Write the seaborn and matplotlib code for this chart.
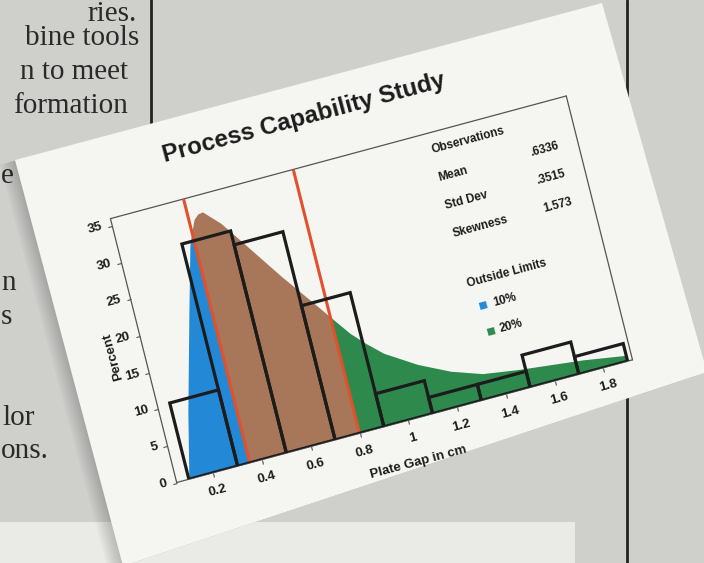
import numpy as np
import matplotlib
matplotlib.use("Agg")
import matplotlib.pyplot as plt
import seaborn as sns
from matplotlib.patches import Polygon, Rectangle
from matplotlib.transforms import Affine2D
import mpl_toolkits.axisartist.floating_axes as floating_axes
from mpl_toolkits.axisartist.grid_finder import FixedLocator, DictFormatter

# histogram of plate gap (cm), percent of parts per bin
bin_edges = [0.1, 0.3, 0.5, 0.7, 0.9, 1.1, 1.3, 1.5, 1.7, 1.9]
percent = [10.4, 30.3, 28.4, 18.3, 4.5, 2.2, 2.2, 4.4, 2.4]

# fitted distribution curve under the bars
curve_x = [0.10, 0.16, 0.26, 0.33, 0.37, 0.39, 0.41, 0.47, 0.55, 0.65, 0.75, 0.81,
           0.86, 0.91, 0.97, 1.09, 1.21, 1.33, 1.47, 1.60, 1.73, 1.90]
curve_y = [0.0, 8.5, 21.2, 29.9, 33.0, 33.6, 33.7, 31.6, 27.7, 22.8, 18.2, 15.4,
           13.1, 11.3, 9.4, 6.8, 4.8, 3.4, 2.7, 2.2, 1.7, 0.8]

# spec limits (red lines)
spec_limits = [0.35, 0.80]

x_ticks = [0.2, 0.4, 0.6, 0.8, 1.0, 1.2, 1.4, 1.6, 1.8]
x_tick_labels = ["0.2", "0.4", "0.6", "0.8", "1", "1.2", "1.4", "1.6", "1.8"]
y_ticks = [0, 5, 10, 15, 20, 25, 30, 35]
y_tick_labels = ["0", "5", "10", "15", "20", "25", "30", "35"]

stat_names = ["Observations", "Mean", "Std Dev", "Skewness"]
stat_values = ["", ".6336", ".3515", "1.573"]
legend_title = "Outside Limits"
legend_labels = ["10%", "20%"]

BLUE = "#2389d6"
BROWN = "#a8775a"
GREEN = "#2e8a4c"
RED = "#e2502c"
INK = "#1c1c1c"
CARD = "#f5f5f2"
PAGE = "#cfcfcc"

sns.set_style("white")
plt.rcParams["font.family"] = ["Liberation Sans", "DejaVu Sans"]

W, H = 704, 563
fig = plt.figure(figsize=(W / 100, H / 100), dpi=100, facecolor=PAGE)

# magazine page behind the card (pixel coords, y down)
bg = fig.add_axes([0, 0, 1, 1], zorder=-1)
bg.set_xlim(0, W)
bg.set_ylim(H, 0)
bg.axis("off")
bg.plot([151, 151], [0, H], color="#222222", lw=2, zorder=1)
bg.plot([627, 627], [0, H], color="#222222", lw=2, zorder=1)
bg.add_patch(Rectangle((0, 522), 575, 50, color="#eaeae7", lw=0, zorder=1.5))
page_text = [("ries.", 137, 14, "right"), ("bine tools", 139, 38, "right"),
             ("n to meet", 128, 72, "right"), ("formation", 128, 106, "right"),
             ("e", 1, 176, "left"), ("n", 1, 283, "left"), ("s", 1, 317, "left"),
             ("lor", 2, 418, "left"), ("ons.", 1, 451, "left")]
for txt, px, py, ha in page_text:
    bg.text(px, py, txt, ha=ha, va="center", fontsize=21, zorder=1.6,
            family="Liberation Serif", color="#2a2a2a")

card = np.array([(15, 160), (602, 3), (707, 372), (123, 566)])
for k in range(1, 11):
    bg.add_patch(Polygon(card + [-1.5 * k, 0.5 * k], color="black", alpha=0.018,
                         lw=0, zorder=3))
bg.add_patch(Polygon(card, color=CARD, lw=0, zorder=4))

# tilted chart: data -> figure pixels (y up)
M = np.array([[243.75, -1.84, 164.5], [65.6, 7.33, 77.2], [0, 0, 1]])
tr = Affine2D(M)
x0, x1, y0, y1 = 0.05, 1.92, 0, 36
helper = floating_axes.GridHelperCurveLinear(
    tr, extremes=(x0, x1, y0, y1),
    grid_locator1=FixedLocator(x_ticks),
    tick_formatter1=DictFormatter(dict(zip(x_ticks, x_tick_labels))),
    grid_locator2=FixedLocator(y_ticks),
    tick_formatter2=DictFormatter(dict(zip(y_ticks, y_tick_labels))))
corners = tr.transform([(x0, y0), (x1, y0), (x1, y1), (x0, y1)])
lo, hi = corners.min(axis=0), corners.max(axis=0)
mid, half = (lo + hi) / 2, (hi - lo) / 2 * 1.02
ax = fig.add_axes([(mid[0] - half[0]) / W, (mid[1] - half[1]) / H,
                   2 * half[0] / W, 2 * half[1] / H],
                  axes_class=floating_axes.FloatingAxes, grid_helper=helper)
ax.patch.set_facecolor(CARD)
aux = ax.get_aux_axes(tr)
aux.patch = ax.patch
ax.patch.zorder = 0.9

for side in ["bottom", "left", "top", "right"]:
    a = ax.axis[side]
    a.line.set_color("#555555")
    a.line.set_linewidth(0.9)
    a.major_ticklabels.set_visible(False)
    a.label.set_visible(False)
for side in ["top", "right"]:
    ax.axis[side].major_ticks.set_visible(False)
for side in ["bottom", "left"]:
    a = ax.axis[side]
    a.major_ticks.set_tick_out(True)
    a.major_ticks.set_ticksize(3)
    a.major_ticks.set_color("#555555")

# fitted curve, coloured by region
fill_bounds = [x0, spec_limits[0], spec_limits[1], x1]
for a_, b_, col in zip(fill_bounds[:-1], fill_bounds[1:], [BLUE, BROWN, GREEN]):
    poly = aux.fill_between(curve_x, curve_y, color=col, lw=0, zorder=1)
    clip = Polygon([(a_, -1), (b_, -1), (b_, 49), (a_, 49)], transform=aux.transData)
    poly.set_clip_path(clip)

for v in spec_limits:
    aux.plot([v, v], [y0, y1], color=RED, lw=2.2, zorder=3, solid_capstyle="butt")

mids = [(a_ + b_) / 2 for a_, b_ in zip(bin_edges[:-1], bin_edges[1:])]
sns.histplot(x=mids, weights=percent, bins=bin_edges, fill=False, color=INK,
             linewidth=2.3, ax=aux, zorder=5)

# all card texts follow the tilt of the card
ang = np.degrees(np.arctan2(M[1, 0], M[0, 0]))
txt_kw = dict(rotation=ang, rotation_mode="anchor", color=INK, fontweight="bold")

for v, lab in zip(x_ticks, x_tick_labels):
    aux.text(v, -2.5, lab, ha="center", va="center", fontsize=9.5, **txt_kw)
for v, lab in zip(y_ticks, y_tick_labels):
    aux.text(0.012, v + 0.3, lab, ha="right", va="center", fontsize=9.5, **txt_kw)
aux.text(1.0, -5.7, "Plate Gap in cm", ha="center", va="center", fontsize=9.5, **txt_kw)
aux.text(-0.075, 18.3, "Percent", ha="center", va="center", fontsize=9.5,
         rotation=ang + 90, rotation_mode="anchor", color=INK, fontweight="bold")

aux.text(0.89, 42.2, "Process Capability Study", ha="center", va="center",
         fontsize=17.5, **txt_kw)
for i, (name, value) in enumerate(zip(stat_names, stat_values)):
    yy = 33.7 - 3.8 * i
    aux.text(1.35, yy, name, ha="left", va="center", fontsize=8.5, **txt_kw)
    aux.text(1.84, yy, value, ha="right", va="center", fontsize=8.5, **txt_kw)
aux.text(1.36, 15.4, legend_title, ha="left", va="center", fontsize=8.5, **txt_kw)
for i, (lab, col) in enumerate(zip(legend_labels, [BLUE, GREEN])):
    yy = 12.0 - 3.5 * i
    aux.text(1.38 + 0.004 * i, yy, "\u25a0", ha="left", va="center", fontsize=11,
             rotation=ang, rotation_mode="anchor", color=col)
    aux.text(1.44, yy, lab, ha="left", va="center", fontsize=8.5, **txt_kw)

fig.savefig("out.png", dpi=100, facecolor=fig.get_facecolor())
